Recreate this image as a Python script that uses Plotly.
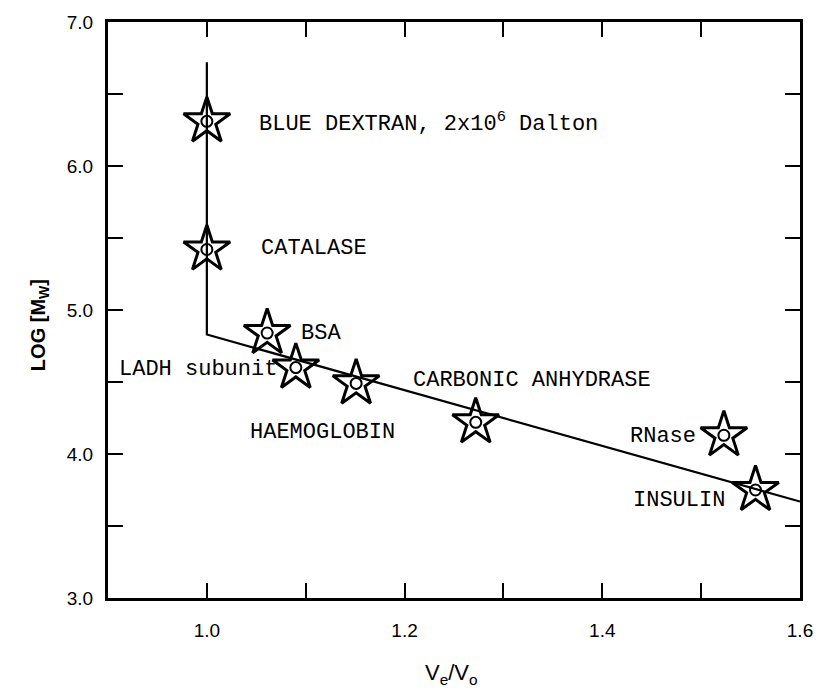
import plotly.graph_objects as go

# Data
proteins = ["BLUE DEXTRAN", "CATALASE", "BSA", "LADH subunit", "HAEMOGLOBIN",
            "CARBONIC ANHYDRASE", "RNase", "INSULIN"]
ve_vo = [1.0, 1.0, 1.061, 1.090, 1.151, 1.272, 1.523, 1.555]
log_mw = [6.31, 5.42, 4.84, 4.60, 4.49, 4.22, 4.13, 3.75]

# calibration line (vertical exclusion limit + linear fit)
line_x = [1.0, 1.0, 1.6]
line_y = [6.72, 4.83, 3.67]

# label texts and their anchor points (left edge, vertical middle)
label_text = ["BLUE DEXTRAN, 2x10<sup>6</sup> Dalton", "CATALASE", "BSA", "LADH subunit",
              "HAEMOGLOBIN", "CARBONIC ANHYDRASE", "RNase", "INSULIN"]
label_x = [1.051, 1.053, 1.093, 0.909, 1.042, 1.206, 1.426, 1.429]
label_y = [6.30, 5.43, 4.84, 4.59, 4.15, 4.51, 4.12, 3.68]

x_tickvals = [1.0, 1.2, 1.4, 1.6]
x_ticktext = ["1.0", "1.2", "1.4", "1.6"]
y_tickvals = [3.0, 4.0, 5.0, 6.0, 7.0]
y_ticktext = ["3.0", "4.0", "5.0", "6.0", "7.0"]

fig = go.Figure()
fig.add_trace(go.Scatter(x=line_x, y=line_y, mode="lines",
                         line=dict(color="black", width=2.2), showlegend=False))
fig.add_trace(go.Scatter(x=ve_vo, y=log_mw, mode="markers",
                         marker=dict(symbol="star-open", size=35, color="black",
                                     line=dict(color="black", width=3)),
                         showlegend=False))
fig.add_trace(go.Scatter(x=ve_vo, y=log_mw, mode="markers",
                         marker=dict(symbol="circle-open", size=11, color="black",
                                     line=dict(color="black", width=2)),
                         showlegend=False))

mono = dict(family="Liberation Mono, DejaVu Sans Mono, monospace", size=22, color="black")
for t, x, y in zip(label_text, label_x, label_y):
    fig.add_annotation(x=x, y=y, text=t, showarrow=False, xanchor="left",
                       yanchor="middle", font=mono)

fig.add_annotation(xref="paper", yref="paper", x=-0.119, y=0.474,
                   text="<b>LOG [M<sub>W</sub>]</b>", textangle=-90, showarrow=False,
                   font=dict(family="Liberation Sans, Arial", size=20, color="black"))
fig.add_annotation(xref="paper", yref="paper", x=0.496, y=-0.16,
                   text="V<sub>e</sub>/V<sub>o</sub>", showarrow=False,
                   font=dict(family="Liberation Sans, Arial", size=22, color="black"))

axis_common = dict(showgrid=False, zeroline=False, showline=True, linecolor="black",
                   linewidth=3, mirror="ticks", ticks="inside", ticklen=15,
                   tickwidth=2, tickcolor="black",
                   tickfont=dict(family="Liberation Sans, Arial", size=19, color="black"))

fig.update_layout(
    width=825, height=691,
    margin=dict(l=108, r=22, t=21, b=93),
    paper_bgcolor="white", plot_bgcolor="white",
    xaxis=dict(range=[0.9, 1.6], tickvals=x_tickvals, ticktext=x_ticktext,
               ticklabelstandoff=13,
               minor=dict(dtick=0.1, tick0=0.9, ticks="inside", ticklen=15,
                          tickwidth=2, tickcolor="black", showgrid=False),
               **axis_common),
    yaxis=dict(range=[3.0, 7.0], tickvals=y_tickvals, ticktext=y_ticktext,
               ticklabelstandoff=8,
               minor=dict(dtick=0.5, tick0=3.0, ticks="inside", ticklen=15,
                          tickwidth=2, tickcolor="black", showgrid=False),
               **axis_common),
)

fig.write_html("out.html")
